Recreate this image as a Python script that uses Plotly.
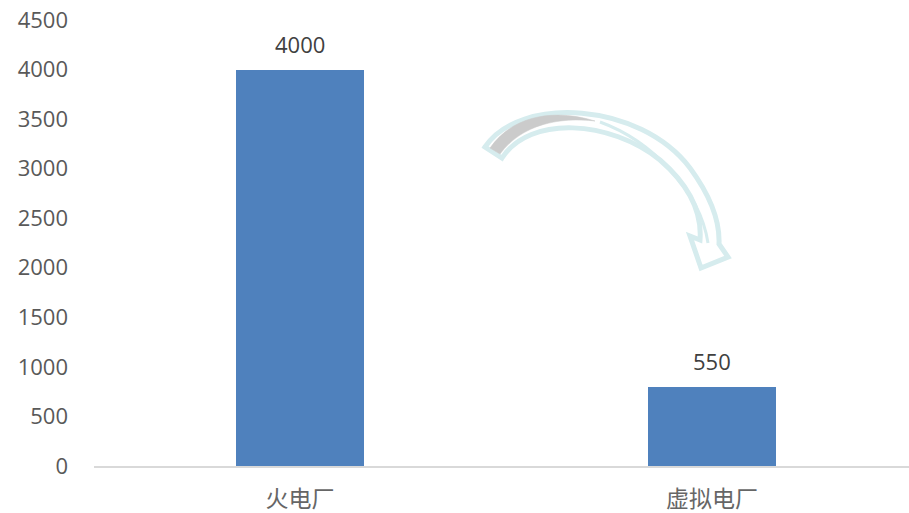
import plotly.graph_objects as go

categories = ["火电厂", "虚拟电厂"]
values = [4000, 800]
labels = ["4000", "550"]
y_ticks = [0, 500, 1000, 1500, 2000, 2500, 3000, 3500, 4000, 4500]

W, H = 909, 513
L, R, T, B = 94, 0, 20, 47
PW, PH = W - L - R, H - T - B

def px(x, y):
    return ((x - L) / PW, (H - B - y) / PH)

def path(pts_cmds):
    out = []
    for cmd, pts in pts_cmds:
        coords = []
        for (x, y) in pts:
            a, b = px(x, y)
            coords.append(f"{a:.5f},{b:.5f}")
        out.append(cmd + " " + " ".join(coords))
    return " ".join(out) + " Z"

fig = go.Figure()
fig.add_trace(go.Bar(
    x=[0, 1], y=values, width=0.311,
    marker=dict(color="#4f81bd", line=dict(width=0)),
    hoverinfo="skip",
))

for i, (v, t) in enumerate(zip(values, labels)):
    fig.add_annotation(x=i, y=v, text=t, showarrow=False, yanchor="middle",
                       yshift=26, font=dict(family="Open Sans", size=22, color="#404040"))

arrow = path([
    ("M", [(485, 147)]),
    ("C", [(520, 95), (640, 102), (690, 168)]),
    ("C", [(712, 198), (720, 222), (719, 244)]),
    ("L", [(728, 257)]),
    ("L", [(701, 268)]),
    ("L", [(690, 236)]),
    ("L", [(700, 240)]),
    ("C", [(702, 214), (690, 186), (660, 160)]),
    ("C", [(610, 120), (530, 115), (502, 158)]),
])
gray = path([
    ("M", [(490, 148)]),
    ("C", [(515, 112), (560, 110), (595, 121)]),
    ("C", [(560, 117), (522, 124), (500, 154)]),
])
inner = ("M " + " ".join(f"{a:.5f},{b:.5f}" for a, b in [px(600, 122)]) +
         " C " + " ".join(f"{a:.5f},{b:.5f}" for a, b in [px(650, 140), px(700, 190), px(708, 243)]))

fig.add_shape(type="path", path=arrow, xref="paper", yref="paper",
              fillcolor="white", line=dict(color="#d6ecee", width=5), layer="above")
fig.add_shape(type="path", path=gray, xref="paper", yref="paper",
              fillcolor="#cbcbcb", line=dict(color="#cbcbcb", width=0.5), layer="above")
fig.add_shape(type="path", path=inner, xref="paper", yref="paper",
              line=dict(color="#d6ecee", width=3), layer="above")

fig.update_layout(
    width=W, height=H,
    margin=dict(l=L, r=R, t=T, b=B, pad=0, autoexpand=False),
    paper_bgcolor="white", plot_bgcolor="white",
    showlegend=False,
    bargap=0,
    xaxis=dict(
        range=[-0.5, 1.478], tickmode="array", tickvals=[0, 1], ticktext=categories,
        showgrid=False, zeroline=False, showline=True, linecolor="#d9d9d9", linewidth=1.5,
        ticks="", ticklabelstandoff=12, automargin=False,
        tickfont=dict(family="Noto Sans CJK SC", size=23, color="#666666"),
    ),
    yaxis=dict(
        range=[0, 4500], tickmode="array", tickvals=y_ticks,
        showgrid=False, zeroline=False, showline=False, ticks="",
        ticklabelstandoff=25, automargin=False,
        tickfont=dict(family="Open Sans", size=22, color="#595959"),
    ),
)

fig.write_html("out.html", config={"displayModeBar": False},
               post_script="document.body.style.margin='0px';")
